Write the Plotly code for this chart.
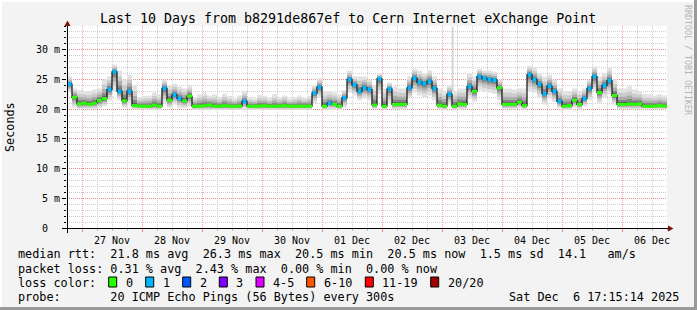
import plotly.graph_objects as go
import pandas as pd

# ---------------- data ----------------
# median RTT per 2-hour bin, ms, starting 26 Nov 18:00
median_ms = [
    24.2, 22.0, 20.9, 21.0, 20.8, 21.0, 21.5, 21.8, 23.3, 26.3,
    23.0, 21.4, 23.0, 20.6, 20.5, 20.5, 20.5, 20.7, 20.5, 23.5,
    21.5, 22.4, 21.8, 21.4, 22.2, 20.5, 20.5, 20.6, 20.7, 20.5,
    20.5, 20.6, 20.5, 20.5, 20.5, 21.3, 20.5, 20.5, 20.5, 20.6,
    20.5, 20.5, 20.5, 20.6, 20.5, 20.5, 20.5, 20.5, 20.5, 22.7,
    23.7, 20.5, 21.0, 20.8, 20.5, 21.9, 25.0, 24.1, 23.0, 23.6,
    23.3, 20.7, 25.1, 20.5, 23.4, 20.8, 20.8, 20.8, 23.6, 25.2,
    24.5, 24.3, 24.7, 23.5, 20.7, 20.5, 22.5, 20.5, 20.9, 20.8,
    23.8, 23.0, 25.5, 25.2, 25.0, 24.9, 23.6, 20.8, 20.8, 20.8,
    21.2, 20.6, 25.8, 25.0, 24.2, 22.6, 23.9, 23.0, 21.3, 20.5,
    20.6, 21.5, 20.8, 21.8, 23.5, 25.5, 22.8, 24.0, 24.8, 22.3,
    20.8, 20.8, 20.9, 20.8, 20.9, 20.5, 20.5, 20.5, 20.6, 20.5,
]
smoke_hi_ms = [
    25.5, 23.5, 23.2, 23.0, 23.0, 23.3, 23.5, 25.0, 25.5, 27.5,
    26.5, 25.0, 25.8, 24.0, 22.0, 22.2, 22.3, 22.8, 22.5, 25.0,
    24.0, 24.3, 23.8, 23.5, 24.0, 22.0, 22.5, 22.8, 22.3, 22.5,
    22.0, 22.6, 22.2, 21.8, 22.3, 23.0, 22.0, 21.8, 22.4, 22.2,
    21.9, 22.5, 22.0, 22.3, 21.8, 22.0, 22.3, 21.9, 22.2, 24.0,
    25.2, 23.0, 23.0, 22.8, 22.5, 23.2, 26.5, 25.5, 25.5, 25.5,
    25.0, 24.0, 26.0, 23.5, 24.5, 23.8, 23.5, 23.5, 25.5, 26.8,
    26.5, 26.0, 26.5, 25.5, 23.5, 23.0, 24.0, 23.0, 23.5, 23.5,
    26.0, 25.5, 26.8, 26.5, 26.5, 26.3, 25.0, 23.5, 23.5, 23.3,
    23.5, 23.5, 27.3, 27.0, 26.0, 25.5, 25.8, 25.0, 23.5, 23.0,
    23.0, 23.5, 23.0, 23.5, 25.0, 27.2, 25.5, 26.0, 27.0, 25.0,
    23.5, 23.5, 23.8, 23.3, 23.0, 22.5, 22.5, 22.3, 22.5, 22.3,
]
smoke_lo_ms = [
    22.8, 20.3, 20.0, 20.0, 20.0, 20.0, 20.2, 20.5, 21.5, 23.0,
    21.5, 20.3, 21.0, 20.0, 19.9, 19.9, 19.9, 19.9, 19.9, 21.0,
    20.3, 20.8, 20.3, 20.2, 20.5, 19.9, 19.9, 19.9, 19.9, 19.9,
    19.9, 19.9, 19.9, 19.9, 19.9, 20.0, 19.9, 19.9, 19.9, 19.9,
    19.9, 19.9, 19.9, 19.9, 19.9, 19.9, 19.9, 19.9, 19.9, 21.0,
    22.0, 19.9, 20.0, 20.0, 19.9, 20.3, 22.8, 22.3, 21.5, 21.8,
    21.5, 20.0, 22.5, 19.9, 21.0, 20.0, 20.0, 20.0, 21.8, 22.8,
    22.3, 22.0, 22.3, 21.5, 20.0, 19.9, 20.8, 19.9, 20.0, 20.0,
    21.8, 21.3, 23.2, 23.0, 22.8, 22.6, 21.5, 20.0, 20.0, 20.0,
    20.2, 19.9, 23.0, 22.8, 22.0, 20.8, 21.8, 21.2, 20.2, 19.9,
    19.9, 20.3, 20.0, 20.5, 21.5, 23.0, 21.0, 22.0, 22.5, 20.8,
    20.0, 20.0, 20.0, 20.0, 20.0, 20.0, 20.0, 20.0, 20.0, 20.0,
]
# lost pings (of 20) per bin
loss_pings = [
    1, 0, 0, 0, 0, 0, 0, 0, 1, 1,
    1, 0, 1, 0, 0, 0, 0, 0, 0, 1,
    0, 1, 1, 0, 0, 0, 0, 0, 0, 0,
    0, 0, 0, 0, 0, 1, 0, 0, 0, 0,
    0, 0, 0, 0, 0, 0, 0, 0, 0, 1,
    1, 0, 1, 0, 0, 1, 1, 1, 1, 1,
    1, 0, 1, 0, 1, 0, 0, 0, 1, 1,
    1, 1, 1, 1, 0, 0, 1, 0, 0, 0,
    1, 0, 1, 1, 1, 1, 0, 0, 0, 0,
    0, 0, 1, 1, 1, 1, 1, 1, 1, 0,
    0, 0, 0, 1, 1, 1, 0, 1, 1, 0,
    0, 0, 0, 0, 0, 0, 0, 0, 0, 0,
]
spike_time = ["2025-12-03 04:15"]
spike_top_ms = [33.9]
spike_base_ms = [22.0]

start_time = "2025-11-26 18:00"
end_time = "2025-12-06 18:00"

ytick_vals = [0, 5, 10, 15, 20, 25, 30]
ytick_text = ["0\u00a0\u00a0", "5 m", "10 m", "15 m", "20 m", "25 m", "30 m"]

title_text = "Last 10 Days from b8291de867ef to Cern Internet eXchange Point"
stat_lines = [
    "median rtt:  21.8 ms avg  26.3 ms max  20.5 ms min  20.5 ms now  1.5 ms sd  14.1   am/s",
    "packet loss: 0.31 % avg  2.43 % max  0.00 % min  0.00 % now",
    "loss color:",
    "probe:       20 ICMP Echo Pings (56 Bytes) every 300s",
]
timestamp_text = "Sat Dec  6 17:15:14 2025"
loss_labels = ["0", "1", "2", "3", "4-5", "6-10", "11-19", "20/20"]
loss_colors = ["#26ff00", "#00b8ff", "#0059ff", "#7e00ff", "#dd00ff", "#ff5500", "#ff0000", "#a10000"]

# ---------------- geometry helpers ----------------
W, H = 697, 310
ML, MR, MT, MB = 67, 30, 26, 82
PW, PH = W - ML - MR, H - MT - MB
FONT = "DejaVu Sans Mono"


def px(x):
    return (x - ML) / PW


def py(y):
    return (H - MB - y) / PH


def nb(s):
    return s.replace(" ", "\u00a0")


edges = pd.date_range(start_time, periods=len(median_ms) + 1, freq="2h")


def step(vals):
    xs, ys = [], []
    for k, v in enumerate(vals):
        xs += [edges[k], edges[k + 1]]
        ys += [v, v]
    return xs, ys


fig = go.Figure()

# smoke spike (single high ping)
for t, top, base in zip(spike_time, spike_top_ms, spike_base_ms):
    fig.add_trace(go.Scatter(x=[t, t], y=[base, top], mode="lines",
                             line=dict(color="#d6d6d6", width=2), hoverinfo="skip"))

# smoke bands
fracs = [1.0, 0.72, 0.48, 0.28, 0.12]
shades = ["#e2e2e2", "#cbcbcb", "#acacac", "#858585", "#505050"]
for f, c in zip(fracs, shades):
    up = [m + f * (h - m) for m, h in zip(median_ms, smoke_hi_ms)]
    lo = [m - f * (m - l) for m, l in zip(median_ms, smoke_lo_ms)]
    xu, yu = step(up)
    xl, yl = step(lo)
    fig.add_trace(go.Scatter(x=xu + xl[::-1], y=yu + yl[::-1], fill="toself",
                             fillcolor=c, line=dict(width=0), mode="lines",
                             hoverinfo="skip"))

# median black line
xm, ym = step(median_ms)
fig.add_trace(go.Scatter(x=xm, y=ym, mode="lines", line=dict(color="#111111", width=1.2),
                         hoverinfo="skip"))

# loss-colored median: green segments (0 loss), blue dots (1 loss)
gx, gy = [], []
bx, by = [], []
for k, (v, lp) in enumerate(zip(median_ms, loss_pings)):
    if lp == 0:
        gx += [edges[k], edges[k + 1], None]
        gy += [v, v, None]
    else:
        bx.append(edges[k] + pd.Timedelta(hours=1))
        by.append(v)
fig.add_trace(go.Scatter(x=gx, y=gy, mode="lines", line=dict(color=loss_colors[0], width=3),
                         hoverinfo="skip", connectgaps=False))
fig.add_trace(go.Scatter(x=bx, y=by, mode="markers",
                         marker=dict(symbol="square", size=4, color=loss_colors[1], line=dict(width=0)),
                         hoverinfo="skip"))

shapes = []
# frame of the image
shapes.append(dict(type="rect", xref="paper", yref="paper", x0=px(W - 3), x1=px(W), y0=py(H), y1=py(0),
                   fillcolor="#9a9a9a", line=dict(width=0), layer="above"))
shapes.append(dict(type="rect", xref="paper", yref="paper", x0=px(0), x1=px(W), y0=py(H), y1=py(H - 3),
                   fillcolor="#9a9a9a", line=dict(width=0), layer="above"))
shapes.append(dict(type="rect", xref="paper", yref="paper", x0=px(0), x1=px(W - 3), y0=py(2), y1=py(0),
                   fillcolor="#ffffff", line=dict(width=0), layer="above"))
shapes.append(dict(type="rect", xref="paper", yref="paper", x0=px(0), x1=px(2), y0=py(H - 3), y1=py(0),
                   fillcolor="#ffffff", line=dict(width=0), layer="above"))
# axes lines
shapes.append(dict(type="line", xref="paper", yref="paper", x0=px(62), x1=px(669), y0=py(228.5), y1=py(228.5),
                   line=dict(color="#000000", width=1)))
shapes.append(dict(type="line", xref="paper", yref="paper", x0=px(67.5), x1=px(67.5), y0=py(233), y1=py(24),
                   line=dict(color="#000000", width=1)))
# arrows
shapes.append(dict(type="path", xref="paper", yref="paper",
                   path=f"M {px(64.5)} {py(26)} L {px(70.5)} {py(26)} L {px(67.5)} {py(20.5)} Z",
                   fillcolor="#7f1010", line=dict(width=0)))
shapes.append(dict(type="path", xref="paper", yref="paper",
                   path=f"M {px(668)} {py(225.5)} L {px(668)} {py(231.5)} L {px(673.5)} {py(228.5)} Z",
                   fillcolor="#7f1010", line=dict(width=0)))

annotations = []
annotations.append(dict(text=nb(title_text), xref="paper", yref="paper", x=px(348), y=py(19),
                        xanchor="center", yanchor="middle", showarrow=False,
                        font=dict(family=FONT, size=13.3, color="#000000")))
annotations.append(dict(text="Seconds", xref="paper", yref="paper", x=px(10), y=py(127),
                        xanchor="center", yanchor="middle", showarrow=False, textangle=-90,
                        font=dict(family=FONT, size=11.8, color="#000000")))
annotations.append(dict(text=nb("RRDTOOL / TOBI OETIKER"), xref="paper", yref="paper", x=px(688), y=py(60),
                        xanchor="center", yanchor="middle", showarrow=False, textangle=90,
                        font=dict(family=FONT, size=8.3, color="#b4b4b4")))
line_y = [254.5, 268.5, 282.5, 296.5]
for s, yy in zip(stat_lines, line_y):
    annotations.append(dict(text=nb(s), xref="paper", yref="paper", x=px(16), y=py(yy),
                            xanchor="left", yanchor="middle", showarrow=False,
                            font=dict(family=FONT, size=11.8, color="#000000")))
annotations.append(dict(text=nb(timestamp_text), xref="paper", yref="paper", x=px(681), y=py(296.5),
                        xanchor="right", yanchor="middle", showarrow=False,
                        font=dict(family=FONT, size=11.8, color="#000000")))
box_x = [108.7, 145.7, 182.7, 219.3, 256.0, 306.7, 365.3, 430.7]
for bxp, lab, col in zip(box_x, loss_labels, loss_colors):
    shapes.append(dict(type="rect", xref="paper", yref="paper", x0=px(bxp), x1=px(bxp + 8),
                       y0=py(287), y1=py(277), fillcolor=col, line=dict(color="#000000", width=1)))
    annotations.append(dict(text=lab, xref="paper", yref="paper", x=px(bxp + 15), y=py(282.5),
                            xanchor="left", yanchor="middle", showarrow=False,
                            font=dict(family=FONT, size=11.8, color="#000000")))

fig.update_layout(
    width=W, height=H, margin=dict(l=ML, r=MR, t=MT, b=MB),
    paper_bgcolor="#f3f3f3", plot_bgcolor="#ffffff", showlegend=False,
    shapes=shapes, annotations=annotations,
    font=dict(family=FONT, size=10, color="#000000"),
)
fig.update_xaxes(
    type="date", range=[start_time, end_time], tick0="2025-11-27", dtick=86400000,
    tickformat="%d %b", ticklabelmode="period",
    showgrid=True, gridcolor="rgba(255,80,80,0.55)", griddash="1px,1px", gridwidth=1,
    ticks="outside", ticklen=3, tickcolor="rgba(255,80,80,0.7)",
    minor=dict(dtick=6 * 3600 * 1000, showgrid=True, gridcolor="#cfcfcf", griddash="1px,1px",
               ticks="outside", ticklen=2, tickcolor="#bbbbbb"),
    showline=False, zeroline=False, tickfont=dict(family=FONT, size=10, color="#000000"),
)
fig.update_yaxes(
    range=[0, 34], tickvals=ytick_vals, ticktext=ytick_text,
    showgrid=True, gridcolor="rgba(255,80,80,0.55)", griddash="1px,1px", gridwidth=1,
    ticks="outside", ticklen=4, tickcolor="#000000",
    minor=dict(dtick=1, showgrid=True, gridcolor="#cfcfcf", griddash="1px,1px",
               ticks="outside", ticklen=2, tickcolor="#000000"),
    showline=False, zeroline=False, tickfont=dict(family=FONT, size=10, color="#000000"),
)

fig.write_html("out.html")
